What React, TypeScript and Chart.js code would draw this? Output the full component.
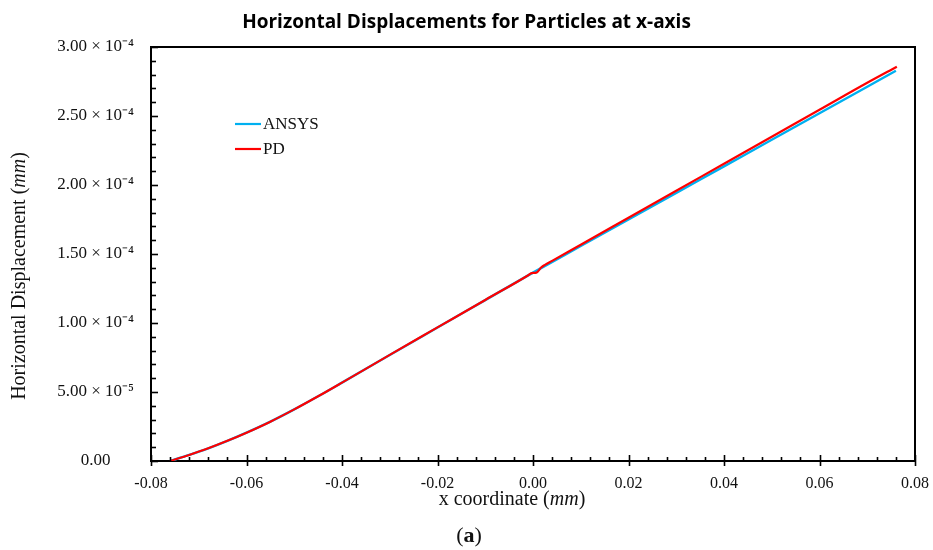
import React, { useEffect, useRef } from "react";
import { Chart, registerables } from "chart.js";

Chart.register(...registerables);

// ---- data ----
const xAnsys = [-0.076, -0.072, -0.068, -0.064, -0.06, -0.055, -0.05, -0.045, -0.04, -0.03, -0.02, -0.01, 0, 0.01, 0.02, 0.03, 0.04, 0.05, 0.06, 0.07, 0.076];
const yAnsys = [0, 4.4e-6, 9.2e-6, 1.46e-5, 2.05e-5, 2.85e-5, 3.74e-5, 4.69e-5, 5.68e-5, 7.68e-5, 9.67e-5, 1.166e-4, 1.365e-4, 1.5575e-4, 1.75e-4, 1.9425e-4, 2.135e-4, 2.3275e-4, 2.52e-4, 2.7125e-4, 2.828e-4];

const xPd = [-0.076, -0.072, -0.068, -0.064, -0.06, -0.055, -0.05, -0.045, -0.04, -0.03, -0.02, -0.01, -0.001, -0.0003, 0.0007, 0.0017, 0.0025, 0.004, 0.01, 0.02, 0.03, 0.04, 0.05, 0.06, 0.07, 0.0762];
const yPd = [0, 4.4e-6, 9.2e-6, 1.46e-5, 2.05e-5, 2.85e-5, 3.74e-5, 4.69e-5, 5.68e-5, 7.69e-5, 9.68e-5, 1.167e-4, 1.346e-4, 1.362e-4, 1.365e-4, 1.402e-4, 1.421e-4, 1.45e-4, 1.5675e-4, 1.763e-4, 1.9585e-4, 2.154e-4, 2.3495e-4, 2.545e-4, 2.7405e-4, 2.857e-4];

const seriesLabels = ["ANSYS", "PD"];
const seriesColors = ["#00B0F0", "#FF0000"];

const titleText = "Horizontal Displacements for Particles at x-axis";
const xTitleParts = [["x coordinate (", false], ["mm", true], [")", false]] as [string, boolean][];
const yTitleParts = [["Horizontal Displacement (", false], ["mm", true], [")", false]] as [string, boolean][];
const panelParts = [["(", false], ["a", true], [")", false]] as [string, boolean][];

const X_MIN = -0.08, X_MAX = 0.08, X_STEP = 0.02, X_MINOR = 0.004;
const Y_MIN = 0, Y_MAX = 3e-4, Y_STEP = 5e-5, Y_MINOR = 1e-5;

const SUP: Record<string, string> = { "-": "\u207B", "0": "\u2070", "1": "\u00B9", "2": "\u00B2", "3": "\u00B3", "4": "\u2074", "5": "\u2075", "6": "\u2076", "7": "\u2077", "8": "\u2078", "9": "\u2079" };

function formatY(v: number): string {
  if (Math.abs(v) < 1e-12) return "0.00";
  const s = v.toExponential(2);
  const [m, e] = s.split("e");
  const exp = String(parseInt(e, 10)).split("").map((c) => SUP[c] || c).join("");
  return `${m} \u00D7 10${exp}`;
}

function formatX(v: number): string {
  const s = Number(v).toFixed(2);
  return s === "-0.00" ? "0.00" : s;
}

const SERIF = "'Liberation Serif', 'Times New Roman', serif";
const TEXT_COLOR = "#111";

function drawParts(ctx: CanvasRenderingContext2D, parts: [string, boolean][], size: number, cx: number, cy: number, boldFlag = false) {
  const fontFor = (flag: boolean) =>
    boldFlag ? `${flag ? "bold " : ""}${size}px ${SERIF}` : `${flag ? "italic " : ""}${size}px ${SERIF}`;
  let total = 0;
  for (const [t, f] of parts) {
    ctx.font = fontFor(f);
    total += ctx.measureText(t).width;
  }
  let x = cx - total / 2;
  ctx.textBaseline = "middle";
  ctx.textAlign = "left";
  for (const [t, f] of parts) {
    ctx.font = fontFor(f);
    ctx.fillText(t, x, cy);
    x += ctx.measureText(t).width;
  }
}

const decorPlugin = {
  id: "decor",
  afterDraw(chart: any) {
    const { ctx, chartArea, scales } = chart;
    const xs = scales.x, ys = scales.y;
    const { left, right, top, bottom } = chartArea;
    ctx.save();
    ctx.strokeStyle = "#000";
    ctx.lineWidth = 2;
    ctx.beginPath();
    ctx.moveTo(left, top);
    ctx.lineTo(right, top);
    ctx.lineTo(right, bottom);
    ctx.stroke();

    ctx.lineWidth = 1.6;
    const nX = Math.round((X_MAX - X_MIN) / X_MINOR);
    for (let i = 0; i <= nX; i++) {
      const v = X_MIN + i * X_MINOR;
      const px = Math.round(xs.getPixelForValue(v)) + 0.5;
      const major = i % 5 === 0;
      ctx.beginPath();
      if (major) {
        ctx.moveTo(px, bottom - 6);
        ctx.lineTo(px, bottom + 5);
      } else {
        ctx.moveTo(px, bottom - 4);
        ctx.lineTo(px, bottom);
      }
      ctx.stroke();
    }
    const nY = Math.round((Y_MAX - Y_MIN) / Y_MINOR);
    for (let i = 0; i <= nY; i++) {
      const v = Y_MIN + i * Y_MINOR;
      const py = Math.round(ys.getPixelForValue(v)) + 0.5;
      const major = i % 5 === 0;
      ctx.beginPath();
      ctx.moveTo(left, py);
      ctx.lineTo(left + (major ? 7 : 5), py);
      ctx.stroke();
    }

    ctx.fillStyle = TEXT_COLOR;
    drawParts(ctx, xTitleParts, 20, 512, 500);
    ctx.save();
    ctx.translate(20, 276);
    ctx.rotate(-Math.PI / 2);
    drawParts(ctx, yTitleParts, 20, 0, 0);
    ctx.restore();
    drawParts(ctx, panelParts, 22, 469, 536, true);

    const ds = chart.data.datasets;
    ds.forEach((d: any, i: number) => {
      const y = 124 + i * 25;
      ctx.strokeStyle = d.borderColor;
      ctx.lineWidth = 2.2;
      ctx.beginPath();
      ctx.moveTo(235, y);
      ctx.lineTo(261, y);
      ctx.stroke();
      ctx.fillStyle = TEXT_COLOR;
      ctx.font = `17px ${SERIF}`;
      ctx.textAlign = "left";
      ctx.textBaseline = "middle";
      ctx.fillText(d.label, 263, y + 1);
    });
    ctx.restore();
  },
};

export default function App() {
  const ref = useRef<HTMLCanvasElement | null>(null);
  useEffect(() => {
    if (!ref.current) return;
    const mk = (xv: number[], yv: number[]) => xv.map((x, i) => ({ x, y: yv[i] }));
    const chart = new Chart(ref.current, {
      type: "line",
      data: {
        datasets: [
          {
            label: seriesLabels[0],
            data: mk(xAnsys, yAnsys),
            borderColor: seriesColors[0],
            backgroundColor: seriesColors[0],
            borderWidth: 2.4,
            pointRadius: 0,
            cubicInterpolationMode: "monotone",
            fill: false,
            order: 2,
          },
          {
            label: seriesLabels[1],
            data: mk(xPd, yPd),
            borderColor: seriesColors[1],
            backgroundColor: seriesColors[1],
            borderWidth: 2.2,
            pointRadius: 0,
            cubicInterpolationMode: "monotone",
            fill: false,
            order: 1,
          },
        ],
      },
      options: {
        responsive: false,
        animation: false,
        layout: { padding: { left: 18, right: 18, top: 0, bottom: 0 } },
        plugins: {
          legend: { display: false },
          tooltip: { enabled: false },
          title: {
            display: true,
            text: titleText,
            color: "#000",
            font: { family: "'Open Sans', sans-serif", weight: "bold", size: 19 },
            padding: { top: 11, bottom: 13.2 },
          },
        },
        scales: {
          x: {
            type: "linear",
            min: X_MIN,
            max: X_MAX,
            grid: { display: false },
            border: { display: true, color: "#000", width: 2 },
            ticks: {
              stepSize: X_STEP,
              autoSkip: false,
              maxRotation: 0,
              padding: 5,
              color: TEXT_COLOR,
              font: { family: SERIF, size: 16 },
              callback: (v: any) => formatX(Number(v)),
            },
            afterFit: (s: any) => {
              s.height = 89;
              s.paddingLeft = 0;
              s.paddingRight = 0;
            },
          },
          y: {
            type: "linear",
            min: Y_MIN,
            max: Y_MAX,
            grid: { display: false },
            border: { display: true, color: "#000", width: 2 },
            ticks: {
              stepSize: Y_STEP,
              autoSkip: false,
              padding: 9,
              crossAlign: "center",
              color: TEXT_COLOR,
              font: { family: SERIF, size: 17 },
              callback: (v: any) => formatY(Number(v)),
            },
            afterFit: (s: any) => {
              s.width = 133;
              s.paddingTop = 0;
              s.paddingBottom = 0;
            },
          },
        },
      },
      plugins: [decorPlugin],
    });
    return () => chart.destroy();
  }, []);
  return (
    <div style={{ position: "absolute", left: 0, top: 0, width: 933, height: 550, background: "#fff" }}>
      <canvas ref={ref} width={933} height={550} style={{ display: "block" }} />
    </div>
  );
}
